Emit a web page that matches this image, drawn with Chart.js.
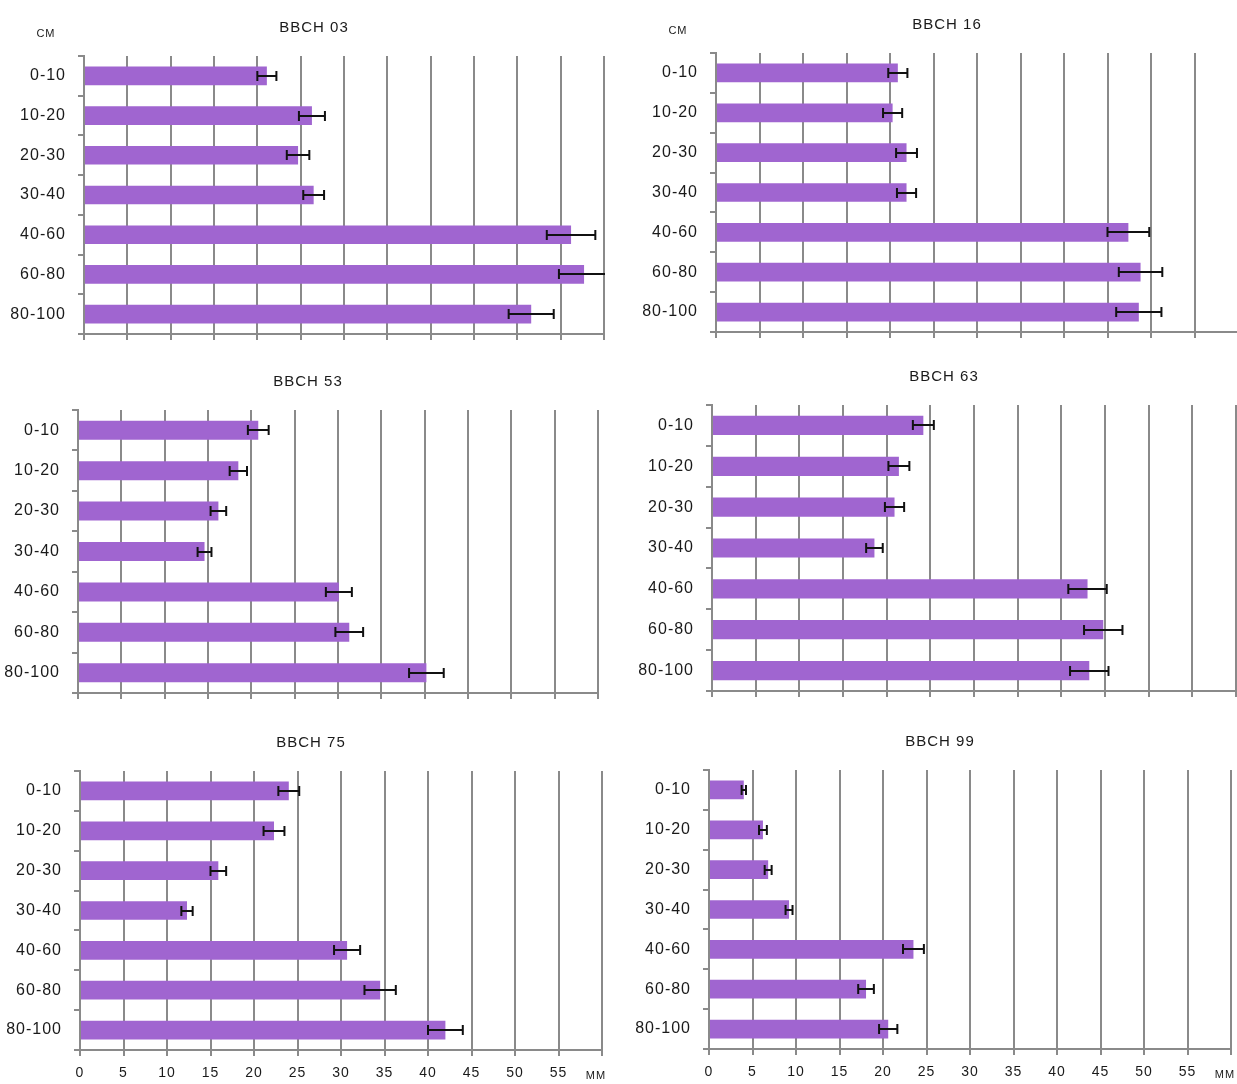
<!DOCTYPE html>
<html>
<head>
<meta charset="utf-8">
<script src="https://cdn.jsdelivr.net/npm/chart.js@4.4.0/dist/chart.umd.min.js"></script>
<style>
  html, body { margin: 0; padding: 0; background: #fff; overflow: hidden; }
  body { width: 1237px; height: 1084px; position: relative; }
  canvas { position: absolute; }
</style>
</head>
<body>
<canvas id="p0"></canvas>
<canvas id="p1"></canvas>
<canvas id="p2"></canvas>
<canvas id="p3"></canvas>
<canvas id="p4"></canvas>
<canvas id="p5"></canvas>
<script>
// depth layers (cm) and growth stages
const depths = ['0-10', '10-20', '20-30', '30-40', '40-60', '60-80', '80-100'];
const stages = ['BBCH 03', 'BBCH 16', 'BBCH 53', 'BBCH 63', 'BBCH 75', 'BBCH 99'];

// soil moisture, mm, with standard errors
const bbch03 = [21.1, 26.3, 24.7, 26.5, 56.2, 57.7, 51.6];
const bbch03Err = [1.1, 1.5, 1.3, 1.2, 2.8, 2.9, 2.6];
const bbch16 = [20.9, 20.3, 21.9, 21.9, 47.4, 48.8, 48.6];
const bbch16Err = [1.1, 1.1, 1.2, 1.1, 2.4, 2.5, 2.6];
const bbch53 = [20.8, 18.5, 16.2, 14.6, 30.1, 31.3, 40.2];
const bbch53Err = [1.2, 1.0, 0.9, 0.8, 1.5, 1.6, 2.0];
const bbch63 = [24.2, 21.4, 20.9, 18.6, 43.0, 44.8, 43.2];
const bbch63Err = [1.2, 1.2, 1.1, 0.95, 2.2, 2.2, 2.2];
const bbch75 = [24.0, 22.3, 15.9, 12.3, 30.7, 34.5, 42.0];
const bbch75Err = [1.2, 1.2, 0.9, 0.65, 1.5, 1.8, 2.0];
const bbch99 = [4.0, 6.2, 6.8, 9.2, 23.5, 18.05, 20.6];
const bbch99Err = [0.25, 0.45, 0.4, 0.4, 1.2, 0.9, 1.05];

const xMax = 60;
const xStep = 5;

const BAR = '#a065d0';
const GRID = '#8a8a8a';
const TEXT = '#1a1a1a';
const FONT = '"Liberation Sans", Arial, sans-serif';

Chart.defaults.font.family = FONT;

// plot area of each panel: left, top, right, bottom
const panels = [
  { id: 'p0', title: stages[0], values: bbch03, errors: bbch03Err, area: [84, 56, 604, 334], col: 0, unitTop: true },
  { id: 'p1', title: stages[1], values: bbch16, errors: bbch16Err, area: [716, 53, 1238, 332], col: 1, unitTop: true },
  { id: 'p2', title: stages[2], values: bbch53, errors: bbch53Err, area: [78, 410, 598, 693], col: 0 },
  { id: 'p3', title: stages[3], values: bbch63, errors: bbch63Err, area: [712, 405, 1236, 691], col: 1 },
  { id: 'p4', title: stages[4], values: bbch75, errors: bbch75Err, area: [80, 771, 602, 1050], col: 0, unitBottom: true },
  { id: 'p5', title: stages[5], values: bbch99, errors: bbch99Err, area: [709, 770, 1231, 1049], col: 1, unitBottom: true },
];

const errorBars = {
  id: 'errorBars',
  afterDatasetsDraw(chart) {
    const { ctx, chartArea: a, scales: { x, y } } = chart;
    const ds = chart.data.datasets[0];
    ctx.save();
    ctx.beginPath();
    ctx.rect(a.left, a.top - 10, a.right - a.left + 1, a.bottom - a.top + 20);
    ctx.clip();
    ctx.strokeStyle = '#111';
    ctx.lineWidth = 2;
    ds.data.forEach((v, i) => {
      const e = ds.errors[i];
      const cy = Math.round(y.getPixelForValue(i));
      const x0 = x.getPixelForValue(v - e);
      const x1 = x.getPixelForValue(v + e);
      ctx.beginPath();
      ctx.moveTo(x0, cy);
      ctx.lineTo(x1, cy);
      ctx.moveTo(x0, cy - 5);
      ctx.lineTo(x0, cy + 5);
      ctx.moveTo(x1, cy - 5);
      ctx.lineTo(x1, cy + 5);
      ctx.stroke();
    });
    ctx.restore();
  }
};

const panelText = {
  id: 'panelText',
  beforeDraw(chart) {
    chart.ctx.letterSpacing = '1px';
  },
  afterDraw(chart, args, opts) {
    const { ctx, chartArea: a } = chart;
    ctx.save();
    ctx.fillStyle = TEXT;
    ctx.textAlign = 'center';
    ctx.textBaseline = 'middle';
    ctx.font = '15px ' + FONT;
    ctx.fillText(opts.title, (a.left + a.right) / 2 - 30, a.top - 28);
    ctx.font = '11px ' + FONT;
    if (opts.unitTop) ctx.fillText('СМ', a.left - 38, a.top - 22);
    if (opts.unitBottom) ctx.fillText('ММ', a.right - 6, a.bottom + 26);
    ctx.restore();
  }
};

panels.forEach(p => {
  const [left, top, right, bottom] = p.area;
  const cx = p.col ? 630 : 0;
  const cw = p.col ? 612 : 630;
  const cTop = top - 50;
  const axisH = p.unitBottom ? 40 : 14;
  const ch = bottom + axisH - cTop;

  const canvas = document.getElementById(p.id);
  canvas.width = cw;
  canvas.height = ch;
  canvas.style.left = cx + 'px';
  canvas.style.top = cTop + 'px';

  new Chart(canvas, {
    type: 'bar',
    data: {
      labels: depths,
      datasets: [{
        data: p.values,
        errors: p.errors,
        backgroundColor: BAR,
        borderWidth: 0,
        barPercentage: 0.47,
        categoryPercentage: 1,
      }],
    },
    options: {
      indexAxis: 'y',
      responsive: false,
      maintainAspectRatio: false,
      animation: false,
      devicePixelRatio: 1,
      layout: { padding: { top: 50, left: 0, bottom: 0, right: cx + cw - right } },
      plugins: {
        legend: { display: false },
        tooltip: { enabled: false },
        panelText: { title: p.title, unitTop: !!p.unitTop, unitBottom: !!p.unitBottom },
      },
      scales: {
        x: {
          type: 'linear',
          min: 0,
          max: xMax,
          afterFit: s => {
            s.height = axisH;
            s.paddingLeft = 0;
            s.paddingRight = 0;
          },
          grid: { color: GRID, lineWidth: 2, tickLength: 6, drawTicks: true },
          border: { color: GRID, width: 2 },
          ticks: {
            stepSize: xStep,
            display: !!p.unitBottom,
            padding: 9,
            color: TEXT,
            font: { size: 14 },
            maxRotation: 0,
            autoSkip: false,
            callback: v => (v === xMax ? '' : v),
          },
        },
        y: {
          afterFit: s => {
            s.width = left - cx;
            s.paddingTop = 0;
            s.paddingBottom = 0;
          },
          grid: { drawOnChartArea: false, color: GRID, lineWidth: 2, tickLength: 6, offset: true },
          border: { color: GRID, width: 2 },
          ticks: { padding: 12, color: TEXT, font: { size: 16 } },
        },
      },
    },
    plugins: [errorBars, panelText],
  });
});
</script>
</body>
</html>
